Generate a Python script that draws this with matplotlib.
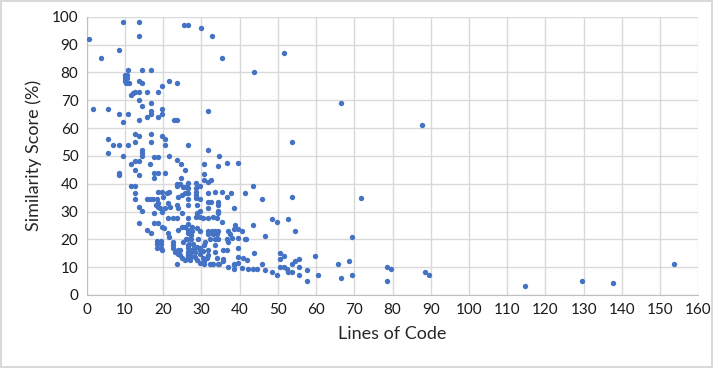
import matplotlib.pyplot as plt
import numpy as np

plt.rcParams['font.family'] = ['Lato', 'DejaVu Sans']

# Lines of code / similarity score (%), grouped by height band
loc_top = [0.6, 9.6, 13.6, 13.6, 25.5, 26.6, 29.8, 32.7, 3.7, 8.5, 35.5, 51.7, 43.7, 66.6, 87.6]
sim_top = [92, 98, 98, 93, 97, 97, 96, 93, 85, 88, 85, 87, 80, 69, 61]

loc_70s = [10.7, 14.5, 16.7, 10, 10.6, 10, 10.6, 10, 10.3, 11,
           13.6, 14.5, 21.5, 23.7, 19.6, 18.6, 15.8, 13.6, 12.6, 12.2,
           11.6, 13.6]
sim_70s = [81, 81, 81, 79, 79, 78, 78, 77, 76, 76,
           77, 76, 77, 76, 75, 73, 73, 73, 73, 72.5,
           72, 70]

loc_60s = [16.7, 14.5, 1.5, 5.6, 19.6, 16.7, 16.7, 19.6, 8.5, 10.7,
           15.8, 18.6, 22.7, 23.7, 13.6, 9.6, 31.6, 12.6, 13.6, 16.7,
           19.6, 20.5, 5.6, 12.6, 16.7, 53.6]
sim_60s = [69, 68, 67, 67, 67, 66, 65, 65, 65, 65,
           64, 64, 63, 63, 63, 62, 66, 58, 57, 58,
           57, 56, 56, 55, 55, 55]

loc_50s = [6.8, 8.5, 10.7, 20.5, 26.6, 31.6, 34.6, 5.6, 14.5, 14.5,
           14.5, 9.6, 17.6, 18.6, 21.5, 23.7, 24.6, 25.6, 30.7, 11.6,
           12.6, 13.6, 16.6, 12.6, 34.4, 36.7, 39.5]
sim_50s = [54, 54, 54, 54, 54, 52, 50, 51, 52, 51,
           50, 50, 49.5, 49.5, 50, 48.5, 47, 45, 47, 47,
           48, 48, 47, 45, 46.4, 47.3, 47.3]

loc_40s = [13.6, 8.5, 8.5, 17.6, 18.6, 20.5, 17.6, 24.6, 11.6, 12.6,
           30.7, 30.7, 31.6, 32.5, 29.6, 26.6, 28.5, 43.6, 23.5, 24.4,
           23.5, 25.1, 26, 26.6, 28.5, 28.5, 18.7, 19.6, 21.6, 12.6,
           33.5, 35.5, 31.6, 37.7, 36.7, 41.4, 25.7, 26.6, 20.9, 24.8,
           26.3, 28.5, 20, 23.9, 71.7, 53.6]
sim_40s = [43, 44, 43, 44, 44, 44, 42, 42, 39, 39,
           43.4, 41.3, 40.7, 41.3, 39.3, 40.1, 40.1, 39.3, 40, 40,
           39.3, 38.7, 38.7, 38.3, 38.3, 37.1, 37, 37, 37, 36.5,
           37.1, 37.1, 36.5, 36.5, 35.3, 36.5, 36.5, 36.5, 36.5, 36,
           36.5, 35.9, 35.3, 35.3, 35, 35.3]

loc_30s = [12.6, 15.7, 16.5, 17.4, 18.3, 28.5, 29.6, 26.6, 45.8, 18.7,
           21.3, 31.6, 32.5, 34.4, 18, 23.5, 34.4, 26.6, 28.8, 13.6,
           18.7, 21.8, 23.9, 19.2, 20.5, 31.6, 38.6, 14.5, 34.4, 29.6,
           19.6, 17.6, 24.8, 34.4, 28.8]
sim_30s = [34.4, 34.4, 34.4, 34.4, 34.4, 34.7, 34.4, 34.4, 34.4, 33,
           33.2, 33.5, 33.5, 33.5, 32.3, 32.3, 32.3, 32.3, 32.3, 31.5,
           31.7, 31.7, 31.1, 31.1, 31.1, 31.1, 31.4, 30.3, 30.3, 30.3,
           29.9, 29.6, 29.4, 29.4, 29.4]

loc_20s = [21.3, 22.6, 23.5, 26.4, 28.5, 29.6, 30.5, 31.8, 33.1, 34,
           35.3, 38.8, 38.6, 39.6, 43.6, 48.5, 49.9, 52.6, 54.5, 13.6,
           17.6, 18.7, 19.6, 20.2, 15.7, 16.7, 21.3, 21.6, 23.9, 24.8,
           25.7, 26.6, 27.6, 28.8, 29.6, 27.6, 26.6, 26.4, 27.4, 31.8,
           32.7, 33.5, 34.4, 31.8, 33.1, 34.2, 37, 37.4, 40.5]
sim_20s = [27.6, 27.6, 27.6, 27.6, 28.2, 28.2, 27.6, 27.8, 28.2, 27.6,
           26.1, 25.2, 23.7, 23.7, 25.2, 27.3, 26.1, 27.3, 23.1, 26,
           26, 26, 24.5, 24, 23.4, 22.2, 22.2, 21, 23.4, 24.5,
           24.5, 25.4, 24.5, 24.2, 23, 23, 23.4, 22.2, 21.6, 23,
           23, 23, 23, 21.8, 21.8, 21.8, 23, 21.8, 23]

loc_teens = [37.9, 36.9, 39.6, 41.4, 41.6, 46.6, 69.5, 26.1, 27.4, 29.2,
             30.9, 32.2, 33.5, 34.4, 36.8, 18.4, 19.3, 18.4, 19.3, 18.4,
             19.3, 19.6, 22.6, 22.6, 22.6, 23.2, 23.9, 25.2, 26, 26.6,
             26.6, 26.7, 27.9, 28.8, 29.6, 27.9, 26.4, 27.4, 28.3, 30.5,
             30.7, 33.5, 33.5, 36.6, 35.6, 39.5, 43.7, 50.6, 24.4, 29.6,
             31.7]
sim_teens = [20.4, 19.2, 20.4, 20.1, 20, 21.1, 21, 20.1, 20.1, 20.1,
             19.2, 20.1, 20.1, 20.1, 20, 19.4, 19.4, 18.2, 18.2, 16.8,
             16.8, 16.2, 19.2, 18, 16.8, 15.6, 16.2, 19.2, 20, 18,
             16.8, 18.2, 18.2, 17.4, 16.8, 16.5, 15.3, 15.3, 15.3, 15.8,
             18.1, 18.1, 15.3, 16.2, 16.2, 17, 15, 15, 16.2, 16.2,
             16.2]

loc_low = [23.9, 24.4, 26.6, 26.6, 26.4, 27.4, 28.3, 29.6, 31.8, 30.5,
           31.4, 34.2, 32.2, 33.1, 34.4, 39.6, 40.9, 41.8, 36.9, 38.6,
           38.6, 39.6, 40.7, 42.3, 43.6, 44.5, 45.8, 46.6, 30.7, 30.7,
           35.6, 35.6, 23.7, 27, 28.8, 29.6, 25.7, 24.8, 51.6, 50.6,
           50.6, 51.6, 52.5, 53.6, 52.6, 53.6, 54.5, 55.5, 55.5, 55.5,
           57.6, 57.6, 59.6, 60.6, 48.5, 49.8, 65.6, 68.6, 66.6,
           69.5, 78.6, 79.6, 78.6, 88.6, 89.5, 114.6, 129.6, 137.6, 153.6,
           32.7, 34.6, 38.6]
sim_low = [14.6, 14.2, 14.4, 13.2, 14.1, 14.1, 13.8, 14.6, 14.4, 13.4,
           13.2, 13.4, 11, 11, 11, 13.8, 13.2, 12.6, 10.2, 10.8,
           9.3, 11.4, 9.8, 9.3, 9.3, 9.3, 11, 9.1, 11.1, 12.1,
           13, 12.1, 11, 12.6, 12.6, 11.4, 12.6, 13.4, 14, 13,
           10.2, 10.2, 9.2, 8.2, 8.2, 11.1, 12.1, 13, 10.2, 7.1,
           9.1, 5.1, 14, 7.1, 8.2, 7.1, 11.1, 12.1, 6.2,
           7.2, 10.2, 9.2, 5.1, 8.2, 7.2, 3.1, 5.1, 4.2, 11.1,
           11.1, 11.1, 11.1]

lines_of_code = loc_top + loc_70s + loc_60s + loc_50s + loc_40s + loc_30s + loc_20s + loc_teens + loc_low
similarity = sim_top + sim_70s + sim_60s + sim_50s + sim_40s + sim_30s + sim_20s + sim_teens + sim_low

fig = plt.figure(figsize=(7.13, 3.68), dpi=100)
fig.patch.set_edgecolor('#D9D9D9')
fig.patch.set_linewidth(1.5)
ax = fig.add_axes([0.1217, 0.1984, 0.8577, 0.7562])

ax.scatter(lines_of_code, similarity, s=15, color='#4472C4', linewidths=0, zorder=3)

ax.set_xlim(0, 160)
ax.set_ylim(0, 100)
ax.set_xticks(np.arange(0, 161, 10))
ax.set_yticks(np.arange(0, 101, 10))
ax.grid(True, color='#D9D9D9', linewidth=1)
ax.set_axisbelow(True)
for side in ['top', 'right']:
    ax.spines[side].set_visible(False)
for side in ['left', 'bottom']:
    ax.spines[side].set_color('#BFBFBF')
ax.tick_params(length=0, labelsize=11, labelcolor='#1a1a1a', pad=6)

ax.set_xlabel('Lines of Code', fontsize=13, color='#262626', labelpad=6)
ax.set_ylabel('Similarity Score (%)', fontsize=13, color='#262626', labelpad=7)

fig.savefig('out.png', dpi=100)
